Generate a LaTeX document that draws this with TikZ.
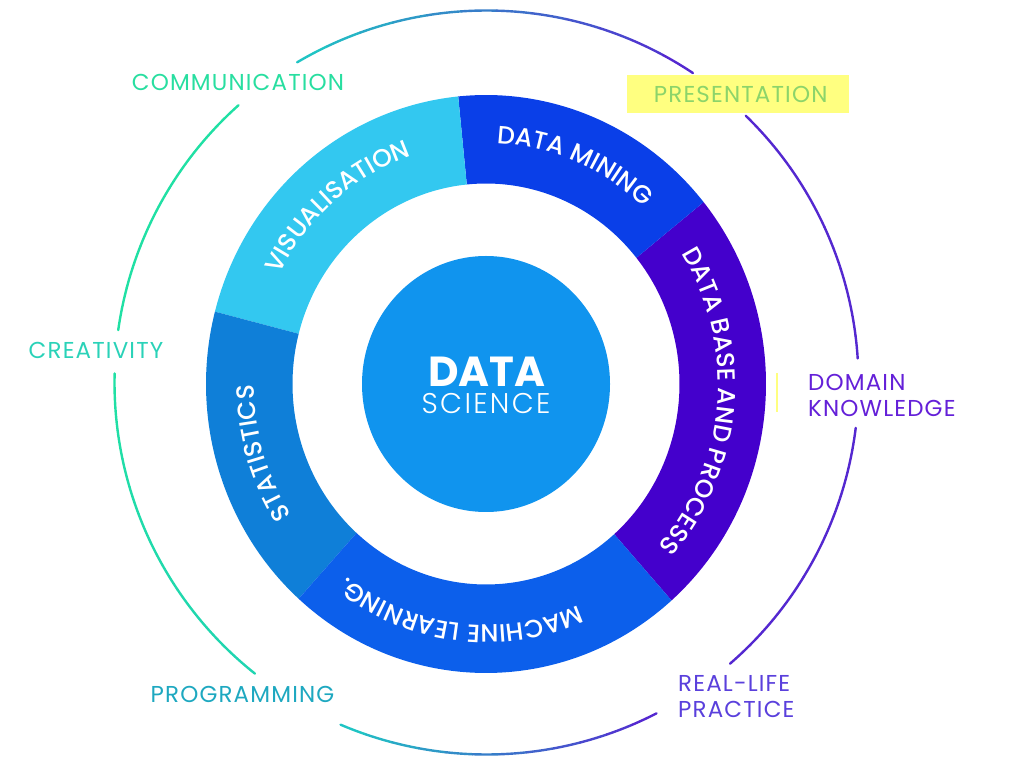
\documentclass[tikz,border=0pt]{standalone}
\usepackage{fontspec}
\setmainfont{Poppins}
\newfontfamily\ringface{Poppins Medium}
\newfontfamily\labelface{Poppins}[LetterSpace=5]
\newfontfamily\scienceface{Poppins Light}[LetterSpace=8]
\usetikzlibrary{decorations.text,shapes.geometric}

\definecolor{visblue}{RGB}{51,200,240}
\definecolor{miningblue}{RGB}{10,63,232}
\definecolor{basepurple}{RGB}{68,0,204}
\definecolor{learnblue}{RGB}{12,95,235}
\definecolor{statblue}{RGB}{15,127,216}
\definecolor{coreblue}{RGB}{16,148,238}
\definecolor{commgreen}{RGB}{40,222,160}
\definecolor{creatgreen}{RGB}{42,210,184}
\definecolor{proggreen}{RGB}{30,168,192}
\definecolor{presgreen}{RGB}{140,212,106}
\definecolor{presyellow}{RGB}{255,255,128}
\definecolor{domainpurple}{RGB}{100,32,216}
\definecolor{realpurple}{RGB}{90,64,220}
\definecolor{arcteal}{RGB}{32,196,196}
\definecolor{arcgreen}{RGB}{32,224,164}
\definecolor{arcpurple}{RGB}{84,40,208}

\newcommand{\ringfont}{\ringface\fontsize{25}{25}\selectfont\color{white}}

% ring piece between two angles
\newcommand{\ringpart}[3]{%
  \fill[#3, shift={(c)}] (#1:280 and 289) arc[start angle=#1, end angle=#2, x radius=280, y radius=289]
    -- (#2:193.5 and 200.5) arc[start angle=#2, end angle=#1, x radius=193.5, y radius=200.5] -- cycle;}

% curved white text, clockwise
\newcommand{\ringtext}[3]{%
  \path[shift={(c)}, decorate, decoration={text along path, text align=center, text={|\ringfont|#3}}]
    (#1:232 and 241) arc[start angle=#1, end angle=#2, x radius=232, y radius=241];}

% outer circle piece, colour from #3 to #4
\newcommand{\outerarc}[4]{%
  \foreach \k in {0,...,11}{
    \pgfmathsetmacro{\fa}{#1+(#2-#1)*\k/12}
    \pgfmathsetmacro{\fb}{#1+(#2-#1)*(\k+1)/12}
    \pgfmathtruncatemacro{\mixp}{100*\k/11}
    \colorlet{arcmix}{#4!\mixp!#3}
    \draw[outer line, arcmix, shift={(o)}] (\fa:372) arc[start angle=\fa, end angle=\fb, radius=372];
  }}

\begin{document}
\begin{tikzpicture}[x=1pt,y=1pt,
  outer line/.style={line width=2.4pt, line cap=round},
  label/.style={inner sep=0pt, font=\labelface\fontsize{23}{26}\selectfont},
  core/.style={ellipse, fill=coreblue, minimum width=248, minimum height=256, inner sep=0pt}]
\useasboundingbox (0,0) rectangle (1020,761);
\coordinate (c) at (486,377);
\coordinate (o) at (486.5,378.5);

%Outer circle
\outerarc{120.6}{56.3}{arcteal}{arcpurple}
\outerarc{131.8}{171.9}{arcgreen}{arcgreen}
\outerarc{178.6}{231.5}{arcgreen}{arcteal!40!arcgreen}
\outerarc{246.9}{297.2}{arcteal}{arcpurple}
\outerarc{310.9}{353}{arcpurple}{arcpurple}
\outerarc{3.7}{45.8}{arcpurple}{arcpurple}

%Ring
\ringpart{-48.5}{39}{basepurple}
\ringpart{39}{95.7}{miningblue}
\ringpart{95.7}{165.5}{visblue}
\ringpart{165.5}{228}{statblue}
\ringpart{228}{311.5}{learnblue}

\ringtext{165.5}{95.7}{VISUALISATION}
\ringtext{95.7}{39}{DATA MINING}
\ringtext{39}{-48.5}{DATA BASE AND PROCESS}
\ringtext{228}{165.5}{STATISTICS}
\ringtext{300}{226.6}{MACHINE LEARNING.}

%Centre
\node[core] (core) at (c) {};
\node[inner sep=0pt, white, font=\fontsize{42}{42}\selectfont\bfseries] (data) at (487,389.5) {DATA};
\node[inner sep=0pt, white, font=\scienceface\fontsize{28.5}{28.5}\selectfont] (science) at (486,357) {SCIENCE};

% Text Node
\node[label, commgreen] (comm) at (238,679) {COMMUNICATION};
% Text Node
\node[label, creatgreen] (creat) at (96,411) {CREATIVITY};
% Text Node
\node[label, proggreen] (prog) at (242.5,66.3) {PROGRAMMING};
% Text Node
\node[label, presgreen, fill=presyellow, minimum width=222, minimum height=38.6] (pres) at (737.7,667) {\hspace{6pt}PRESENTATION};
% Text Node
\node[label, domainpurple, anchor=west, align=left] (domain) at (808,365.5) {DOMAIN\\KNOWLEDGE};
% Text Node
\node[label, realpurple, anchor=west, align=left] (real) at (678,64.6) {REAL-LIFE\\PRACTICE};

\draw[presyellow, line width=2pt] (777,388) -- (777,349);

\end{tikzpicture}
\end{document}
